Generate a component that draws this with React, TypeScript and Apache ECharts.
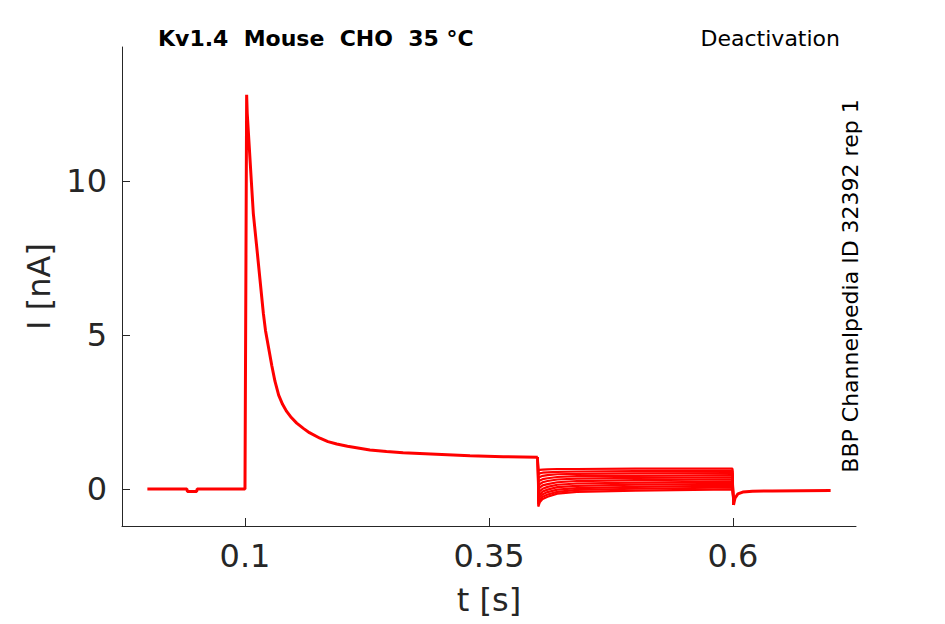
import { useEffect, useRef } from 'react';
import * as echarts from 'echarts';

// shared part of every sweep: holding, activation step to 0.4 s
const tMain = [
  0, 0.0405, 0.041, 0.0505, 0.051, 0.1, 0.1017, 0.1023, 0.1044, 0.1065, 0.1085, 0.112, 0.1154, 0.1188,
  0.121, 0.124, 0.1275, 0.1307, 0.1345, 0.1385, 0.1427, 0.1475, 0.153, 0.1598, 0.166, 0.1768, 0.185,
  0.194, 0.205, 0.228, 0.245, 0.262, 0.296, 0.3305, 0.3647, 0.4,
];
const iMain = [
  0, 0, -0.08, -0.08, 0, 0, 12.8, 12.2, 11.1, 10.0, 8.96, 7.87, 6.79, 5.71,
  5.15, 4.62, 4.0, 3.5, 3.05, 2.75, 2.52, 2.32, 2.14, 1.97, 1.83, 1.65, 1.54,
  1.46, 1.39, 1.27, 1.22, 1.18, 1.13, 1.08, 1.05, 1.03,
];

// deactivation steps 0.4 .. 0.6 s, one row per sweep
const tTail = [0.4005, 0.402, 0.405, 0.41, 0.42, 0.44, 0.5, 0.5995];
const tailSweeps = [
  [0.6, 0.62, 0.63, 0.64, 0.65, 0.65, 0.66, 0.66],
  [0.48, 0.51, 0.53, 0.54, 0.56, 0.57, 0.58, 0.59],
  [0.35, 0.39, 0.43, 0.45, 0.48, 0.49, 0.51, 0.52],
  [0.22, 0.28, 0.32, 0.35, 0.39, 0.42, 0.43, 0.45],
  [0.09, 0.16, 0.22, 0.26, 0.31, 0.34, 0.36, 0.38],
  [-0.04, 0.05, 0.12, 0.16, 0.22, 0.26, 0.29, 0.31],
  [-0.17, -0.07, 0.01, 0.07, 0.14, 0.18, 0.21, 0.24],
  [-0.29, -0.18, -0.08, -0.02, 0.06, 0.1, 0.14, 0.17],
  [-0.4, -0.27, -0.17, -0.1, -0.02, 0.03, 0.07, 0.11],
  [-0.49, -0.36, -0.25, -0.18, -0.09, -0.03, 0.01, 0.05],
  [-0.57, -0.43, -0.32, -0.25, -0.15, -0.09, -0.05, -0.01],
];

// return to holding after 0.6 s
const tAfter = [0.6005, 0.602, 0.605, 0.61, 0.62, 0.64, 0.7];
const iAfter = [-0.52, -0.3, -0.16, -0.1, -0.07, -0.06, -0.05];

const xTicks = [0.1, 0.35, 0.6];
const yTicks = [0, 5, 10];

const titleText = 'Kv1.4  Mouse  CHO  35 °C';
const protocolText = 'Deactivation';
const sourceText = 'BBP Channelpedia ID 32392 rep 1';

const RED = '#ff0000';
const AXIS = '#262626';
const FONT = '"DejaVu Sans", sans-serif';

export default function App() {
  const chartRef = useRef<HTMLDivElement>(null);

  useEffect(() => {
    if (!chartRef.current) return;
    document.body.style.margin = '0';

    const chart = echarts.init(chartRef.current, undefined, { renderer: 'svg' });

    const mainData = tMain.map((t, i) => [t, iMain[i]]);
    const afterData = tAfter.map((t, i) => [t, iAfter[i]]);
    const lastMain = mainData[mainData.length - 1];

    const tailSeries = tailSweeps.map((vals, k) => ({
      name: 'sweep' + (k + 1),
      type: 'line' as const,
      showSymbol: false,
      silent: true,
      lineStyle: { color: RED, width: 2.2 },
      data: [lastMain, ...tTail.map((t, i) => [t, vals[i]]), afterData[0]],
    }));

    const option: echarts.EChartsOption = {
      animation: false,
      textStyle: { fontFamily: FONT },
      grid: { left: 122, top: 47, width: 734, height: 479 },
      xAxis: {
        type: 'value',
        min: -0.026,
        max: 0.726,
        name: 't [s]',
        nameLocation: 'middle',
        nameGap: 58,
        nameTextStyle: { fontSize: 32, color: AXIS, fontFamily: FONT },
        axisLine: { show: true, onZero: false, lineStyle: { color: AXIS, width: 1 } },
        axisTick: { show: true, inside: true, length: 8, customValues: xTicks, lineStyle: { color: AXIS } },
        axisLabel: {
          customValues: xTicks,
          fontSize: 32,
          color: AXIS,
          margin: 14,
          fontFamily: FONT,
          formatter: (v: number) => String(v),
        },
        splitLine: { show: false },
      },
      yAxis: {
        type: 'value',
        min: -1.2,
        max: 14.35,
        name: 'I [nA]',
        nameLocation: 'middle',
        nameGap: 66,
        nameRotate: 90,
        nameTextStyle: { fontSize: 32, color: AXIS, fontFamily: FONT },
        axisLine: { show: true, onZero: false, lineStyle: { color: AXIS, width: 1 } },
        axisTick: { show: true, inside: true, length: 8, customValues: yTicks, lineStyle: { color: AXIS } },
        axisLabel: {
          customValues: yTicks,
          fontSize: 32,
          color: AXIS,
          margin: 15,
          fontFamily: FONT,
        },
        splitLine: { show: false },
      },
      graphic: [
        {
          type: 'text',
          left: 158,
          top: 27,
          style: { text: titleText, font: `bold 22px ${FONT}`, fill: '#000' },
        },
        {
          type: 'text',
          right: 105,
          top: 27,
          style: { text: protocolText, font: `22px ${FONT}`, fill: '#000' },
        },
        {
          type: 'text',
          x: 850,
          y: 286,
          rotation: Math.PI / 2,
          style: {
            text: sourceText,
            font: `22px ${FONT}`,
            fill: '#000',
            align: 'center',
            verticalAlign: 'middle',
          },
        },
      ],
      series: [
        {
          name: 'activation',
          type: 'line',
          showSymbol: false,
          silent: true,
          lineStyle: { color: RED, width: 3 },
          data: mainData,
          z: 3,
        },
        ...tailSeries,
        {
          name: 'return',
          type: 'line',
          showSymbol: false,
          silent: true,
          lineStyle: { color: RED, width: 3 },
          data: afterData,
          z: 3,
        },
      ],
    };

    chart.setOption(option);

    return () => {
      chart.dispose();
    };
  }, []);

  return <div ref={chartRef} style={{ width: 945, height: 624 }} />;
}
